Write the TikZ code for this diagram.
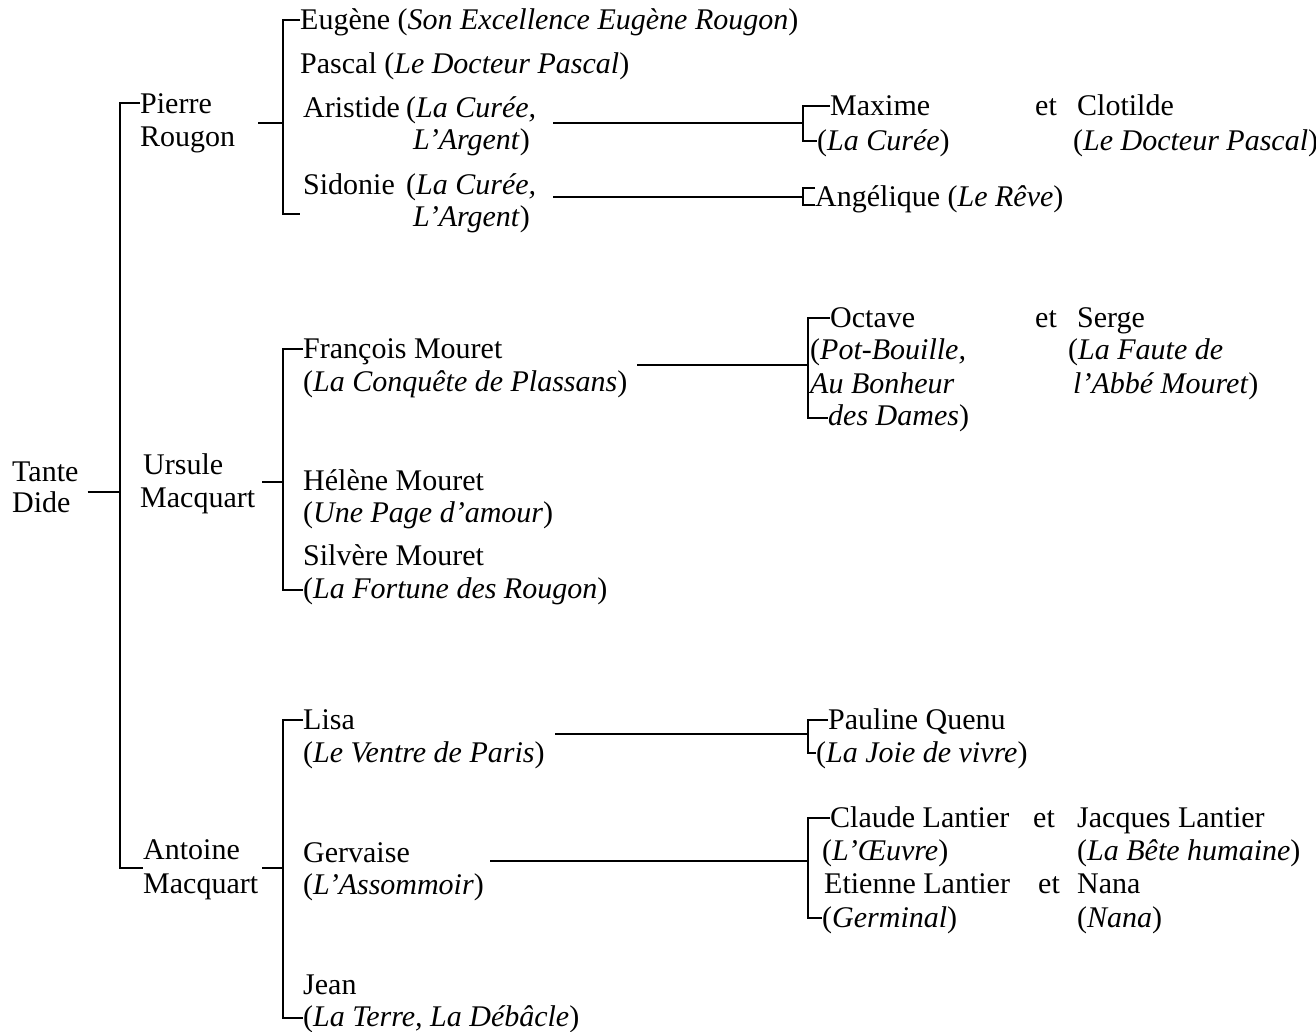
\documentclass[tikz,border=0pt]{standalone}
\usepackage{fontspec}
\setmainfont{Liberation Serif}
\begin{document}
\begin{tikzpicture}[x=1pt,y=-1pt,
  t/.style={anchor=base west, inner sep=0pt, font=\fontsize{30}{33}\selectfont},
  ln/.style={line width=1.3pt, line cap=butt}]
\useasboundingbox (0,0) rectangle (1316,1031);
% ---- generation 0/1
\node[t] (tante) at (12,481) {Tante};
\node[t] (dide) at (12,512) {Dide};
\node[t] (pierre) at (140,113) {Pierre};
\node[t] (rougon) at (140,146) {Rougon};
\node[t] (ursule) at (143,474) {Ursule};
\node[t] (umacq) at (140,507) {Macquart};
\node[t] (antoine) at (143,859) {Antoine};
\node[t] (amacq) at (143,893) {Macquart};
% ---- Pierre's children
\node[t] (eugene) at (300,29) {Eugène (\textit{Son Excellence Eugène Rougon})};
\node[t] (pascal) at (300,73) {Pascal (\textit{Le Docteur Pascal})};
\node[t] (aristide) at (303,117) {Aristide};
\node[t] (aristideb) at (406,117) {(\textit{La Curée,}};
\node[t] (aristidec) at (413,149) {\textit{L’Argent})};
\node[t] (sidonie) at (303,194) {Sidonie};
\node[t] (sidonieb) at (406,194) {(\textit{La Curée,}};
\node[t] (sidoniec) at (413,226) {\textit{L’Argent})};
\node[t] (maxime) at (830,115) {Maxime};
\node[t] (maximeb) at (817,150) {(\textit{La Curée})};
\node[t] (et1) at (1035,115) {et};
\node[t] (clotilde) at (1077,115) {Clotilde};
\node[t] (clotildeb) at (1073,150) {(\textit{Le Docteur Pascal})};
\node[t] (angelique) at (815,206) {Angélique (\textit{Le Rêve})};
% ---- Ursule's children
\node[t] (francois) at (303,358) {François Mouret};
\node[t] (francoisb) at (303,391) {(\textit{La Conquête de Plassans})};
\node[t] (helene) at (303,490) {Hélène Mouret};
\node[t] (heleneb) at (303,522) {(\textit{Une Page d’amour})};
\node[t] (silvere) at (303,565) {Silvère Mouret};
\node[t] (silvereb) at (303,598) {(\textit{La Fortune des Rougon})};
\node[t] (octave) at (830,327) {Octave};
\node[t] (octaveb) at (810,359) {(\textit{Pot-Bouille,}};
\node[t] (octavec) at (810,393) {\textit{Au Bonheur}};
\node[t] (octaved) at (828,425) {\textit{des Dames})};
\node[t] (et2) at (1035,327) {et};
\node[t] (serge) at (1077,327) {Serge};
\node[t] (sergeb) at (1068,359) {(\textit{La Faute de}};
\node[t] (sergec) at (1073,393) {\textit{l’Abbé Mouret})};
% ---- Antoine's children
\node[t] (lisa) at (303,729) {Lisa};
\node[t] (lisab) at (303,762) {(\textit{Le Ventre de Paris})};
\node[t] (gervaise) at (303,862) {Gervaise};
\node[t] (gervaiseb) at (303,894) {(\textit{L’Assommoir})};
\node[t] (jean) at (303,994) {Jean};
\node[t] (jeanb) at (303,1026) {(\textit{La Terre, La Débâcle})};
\node[t] (pauline) at (828,729) {Pauline Quenu};
\node[t] (paulineb) at (816,762) {(\textit{La Joie de vivre})};
\node[t] (claude) at (830,827) {Claude Lantier};
\node[t] (et3) at (1033,827) {et};
\node[t] (claudeb) at (822,860) {(\textit{L’Œuvre})};
\node[t] (etienne) at (824,893) {Etienne Lantier};
\node[t] (et4) at (1038,893) {et};
\node[t] (etienneb) at (822,927) {(\textit{Germinal})};
\node[t] (jacques) at (1077,827) {Jacques Lantier};
\node[t] (jacquesb) at (1077,860) {(\textit{La Bête humaine})};
\node[t] (nana) at (1077,893) {Nana};
\node[t] (nanab) at (1077,927) {(\textit{Nana})};
% ---- bracket coordinates
\coordinate (mtop) at (120,103);
\coordinate (mbot) at (120,868);
\coordinate (mmid) at (120,492);
\coordinate (pb) at (283,123);
\coordinate (ub) at (283,482);
\coordinate (ab) at (283,868);
% ---- connectors
\draw[ln] (tante.east |- mmid) ++(9,0) -- (mmid);
\draw[ln] (pierre.west |- mtop) -- (mtop) -- (mbot) -- (antoine.west |- mbot);
% Pierre
\draw[ln] (258,123) -- (pb);
\draw[ln] (eugene.west |- 0,20) -- (283,20) -- (283,214) -- (300,214);
\draw[ln] (553,123) -- (803,123);
\draw[ln] (maxime.west |- 0,106) -- (803,106) -- (803,141) -- (maximeb.west |- 0,141);
\draw[ln] (553,197) -- (803,197);
\draw[ln] (815,188) -- (803,188) -- (803,205) -- (815,205);
% Ursule
\draw[ln] (262,482) -- (ub);
\draw[ln] (francois.west |- 0,349) -- (283,349) -- (283,590) -- (silvereb.west |- 0,590);
\draw[ln] (637,365) -- (808,365);
\draw[ln] (octave.west |- 0,318) -- (808,318) -- (808,418) -- (octaved.west |- 0,418);
% Antoine
\draw[ln] (262,868) -- (ab);
\draw[ln] (lisa.west |- 0,720) -- (283,720) -- (283,1018) -- (jeanb.west |- 0,1018);
\draw[ln] (555,734) -- (808,734);
\draw[ln] (pauline.west |- 0,720) -- (808,720) -- (808,753) -- (paulineb.west |- 0,753);
\draw[ln] (490,861) -- (808,861);
\draw[ln] (claude.west |- 0,818) -- (808,818) -- (808,918) -- (etienneb.west |- 0,918);
\end{tikzpicture}
\end{document}
